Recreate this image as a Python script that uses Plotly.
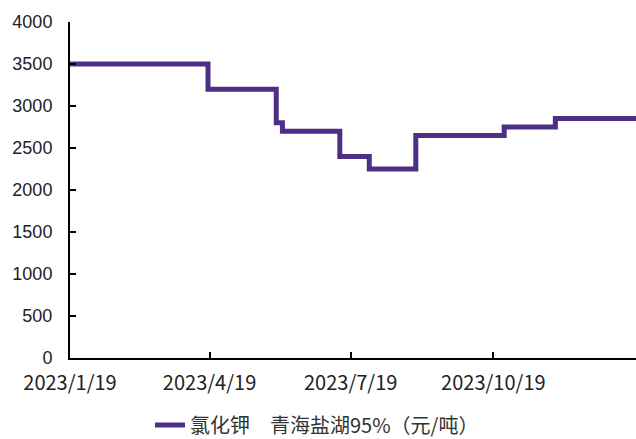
import plotly.graph_objects as go

# Step dates (price change points) and prices
dates = ["2023-01-19", "2023-04-18", "2023-06-01", "2023-06-05", "2023-07-12",
         "2023-07-31", "2023-08-30", "2023-10-26", "2023-11-28", "2024-01-19"]
prices = [3500, 3200, 2800, 2700, 2400, 2250, 2650, 2750, 2850, 2850]

tick_dates = ["2023-01-19", "2023-04-19", "2023-07-19", "2023-10-19"]
tick_labels = ["2023/1/19", "2023/4/19", "2023/7/19", "2023/10/19"]
series_name = "氯化钾　青海盐湖95%（元/吨）"

color = "#4E2F85"

fig = go.Figure()
fig.add_trace(go.Scatter(
    x=dates, y=prices, mode="lines", name=series_name,
    line=dict(color=color, width=5, shape="hv"),
))

fig.update_layout(
    width=636, height=439,
    margin=dict(l=70, r=0, t=22, b=81, autoexpand=False),
    paper_bgcolor="white", plot_bgcolor="white",
    showlegend=True,
    legend=dict(orientation="h", xref="container", yref="container",
                x=150/636, xanchor="left", y=(439-425)/439, yanchor="middle",
                font=dict(family="Noto Sans CJK SC", size=20, color="#333333"),
                bgcolor="rgba(0,0,0,0)"),
    font=dict(family="Liberation Sans, Arial", color="#222222"),
)
fig.update_xaxes(
    type="date", range=["2023-01-19", "2024-01-19"],
    tickvals=tick_dates, ticktext=tick_labels,
    showline=True, linecolor="black", linewidth=2,
    ticks="inside", ticklen=6, tickwidth=1.5, tickcolor="black",
    showgrid=False, zeroline=False,
    tickfont=dict(family="Noto Sans CJK SC", size=20, color="#222222"),
    ticklabelstandoff=6,
)
fig.update_yaxes(
    range=[0, 4000], dtick=500,
    showline=True, linecolor="black", linewidth=2,
    ticks="inside", ticklen=6, tickwidth=1.5, tickcolor="black",
    showgrid=False, zeroline=False,
    tickfont=dict(family="Liberation Sans, Arial", size=18, color="#222222"),
    ticklabelstandoff=12,
)

fig.write_html("out.html")
